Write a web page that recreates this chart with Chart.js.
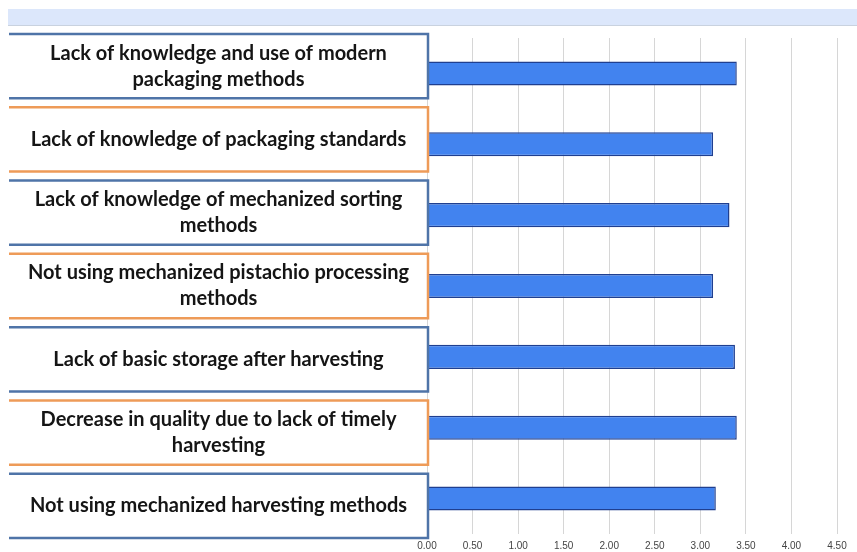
<!DOCTYPE html>
<html>
<head>
<meta charset="utf-8">
<script src="https://cdn.jsdelivr.net/npm/chart.js@4"></script>
<style>
  body { margin: 0; background: #fff; }
  #wrap { width: 857px; height: 552px; position: relative; }
</style>
</head>
<body>
<div id="wrap"><canvas id="barChart"></canvas></div>
<script>
const categories = [
    ['Lack of knowledge and use of modern', 'packaging methods'],
    ['Lack of knowledge of packaging standards'],
    ['Lack of knowledge of mechanized sorting', 'methods'],
    ['Not using mechanized pistachio processing', 'methods'],
    ['Lack of basic storage after harvesting'],
    ['Decrease in quality due to lack of timely', 'harvesting'],
    ['Not using mechanized harvesting methods']
];
const scores = [3.40, 3.14, 3.32, 3.14, 3.38, 3.40, 3.17];
const xTicks = [0, 0.5, 1, 1.5, 2, 2.5, 3, 3.5, 4, 4.5];
const boxColors = ['#4f74a8', '#ee9b58'];

// light toolbar strip across the top
const topStrip = {
    id: 'topStrip',
    beforeDraw(chart) {
        const ctx = chart.ctx;
        ctx.save();
        ctx.fillStyle = '#dce7fb';
        ctx.fillRect(8, 9, chart.width - 8, 16);
        ctx.fillStyle = '#c9d2df';
        ctx.fillRect(8, 25, chart.width - 8, 1);
        ctx.restore();
    }
};

// framed category labels on the left
const labelBoxes = {
    id: 'labelBoxes',
    afterDatasetsDraw(chart) {
        const ctx = chart.ctx;
        const ca = chart.chartArea;
        const n = categories.length;
        const gap = 9;
        const top0 = ca.top - 4;
        const bottom0 = ca.bottom + 4;
        const h = (bottom0 - top0 - gap * (n - 1)) / n;
        const x0 = 9;
        const x1 = ca.left + 1;
        ctx.save();
        for (let i = 0; i < n; i++) {
            const y = top0 + i * (h + gap);
            ctx.fillStyle = '#fff';
            ctx.fillRect(x0, y, x1 - x0, h);
            ctx.strokeStyle = boxColors[i % 2];
            ctx.lineWidth = 2.5;
            ctx.beginPath();
            ctx.moveTo(x0, y);
            ctx.lineTo(x1, y);
            ctx.lineTo(x1, y + h);
            ctx.lineTo(x0, y + h);
            ctx.stroke();
            ctx.fillStyle = '#151515';
            ctx.font = 'bold 20px Lato';
            ctx.textAlign = 'center';
            ctx.textBaseline = 'middle';
            const lines = categories[i];
            const lh = 26;
            const cx = (x0 + x1) / 2;
            const cy = y + h / 2;
            lines.forEach((t, j) => {
                ctx.fillText(t, cx, cy + (j - (lines.length - 1) / 2) * lh);
            });
        }
        ctx.restore();
    }
};

new Chart('barChart', {
    type: 'bar',
    data: {
        labels: categories.map(c => c.join(' ')),
        datasets: [{
            data: scores,
            backgroundColor: '#4283ef',
            borderColor: '#1f3f90',
            borderWidth: 1.5,
            categoryPercentage: 1,
            barPercentage: 0.34
        }]
    },
    options: {
        indexAxis: 'y',
        responsive: true,
        maintainAspectRatio: false,
        animation: false,
        layout: { padding: { top: 38, left: 427, right: 20, bottom: -6 } },
        plugins: { legend: { display: false }, tooltip: { enabled: false } },
        scales: {
            x: {
                min: 0,
                max: 4.5,
                afterBuildTicks(axis) { axis.ticks = xTicks.map(v => ({ value: v })); },
                grid: { color: '#d6d6d6', drawTicks: false },
                border: { display: false },
                ticks: {
                    padding: 6,
                    color: '#444',
                    font: { family: 'Liberation Sans', size: 10 },
                    callback: v => Number(v).toFixed(2)
                }
            },
            y: { display: false }
        }
    },
    plugins: [topStrip, labelBoxes]
});
</script>
</body>
</html>
